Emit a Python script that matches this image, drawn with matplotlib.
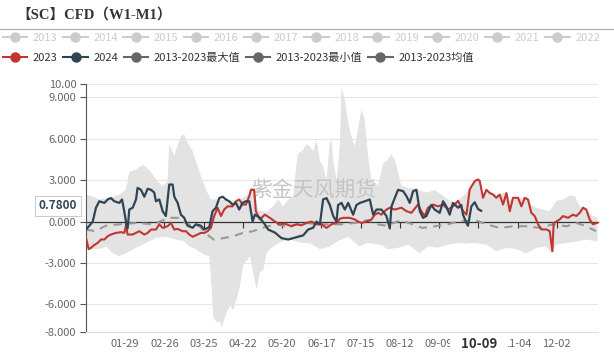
import numpy as np
import pandas as pd
import matplotlib
matplotlib.use("Agg")
import matplotlib.pyplot as plt
from matplotlib.lines import Line2D

plt.rcParams['font.family'] = ['Noto Sans CJK SC', 'DejaVu Sans']

# ---------------------------------------------------------------- data ----
# x = day of year (0 = 01-01)
days_2024 = [0, 2.4, 4.8, 7.1, 9.5, 13.1, 15.5, 17.8, 20.2, 23.8, 25.7, 27.3, 28.5, 29.7,
             30.9, 33.3, 35.7, 36.8, 39.2, 41.6, 44.0, 46.4, 48.7, 49.9, 52.3, 54.7, 57.0,
             59.4, 61.8, 63.0, 65.4, 67.7, 70.1, 72.5, 76.1, 78.4, 82.0, 84.4, 88.0, 90.3,
             92.7, 95.1, 97.5, 99.8, 102.2, 104.6, 107.0, 109.3, 111.7, 114.1, 116.5, 118.9,
             120.5, 124.1, 127.6, 130.0, 134.8, 139.5, 144.3, 147.8, 151.4, 155.0, 158.5,
             162.1, 164.5, 166.9, 169.2, 171.6, 174.0, 176.4, 178.7, 179.9, 182.3, 184.7,
             187.1, 190.6, 193.0, 195.4, 199.0, 202.5, 204.9, 207.3, 210.8, 214.4, 216.8,
             218.0, 220.3, 222.7, 226.3, 228.7, 231.0, 233.4, 235.8, 238.2, 240.5, 242.9,
             246.4, 248.8, 252.4, 254.8, 257.1, 259.5, 261.9, 265.5, 267.8, 269.0, 271.5,
             272.6, 275.0, 277.4, 279.8, 282.0]
cfd_2024 = [-0.58, -0.3, 0, 1.0, 1.47, 1.35, 1.6, 1.7, 1.47, 1.35, 1.6, 0.75, 0, -0.5,
            0.87, 1.0, 1.6, 2.44, 2.3, 1.8, 2.37, 2.3, 2.1, 1.47, 1.6, 0.75, 0.4,
            2.68, 2.68, 1.8, 1.35, 0.5, 0.27, -0.3, -0.45, -0.2, -0.3, -0.58, -0.4, 0.75,
            1.0, 1.7, 1.8, 1.6, 1.47, 1.23, 1.35, 0.87, 1.35, 1.47, 1.47, 0,
            0.5, 0.27, -0.2, -0.58, -0.8, -1.2, -1.3, -1.2, -1.1, -1.0, -0.58,
            -0.45, 0, -0.2, 1.6, 1.7, 1.2, 0.4, 0, 1.2, 1.35, 0.87,
            1.35, 0.5, 1.2, 1.35, 1.47, 1.6, 0.5, 0.87, 0.87, 0.4, -0.5,
            1.1, 1.7, 2.3, 2.2, 1.84, 1.35, 2.2, 2.3, 0.75, 0.27, 0.4,
            1.2, 0.87, 0.63, 1.47, 1.1, 0.5, 1.35, 1.0, 1.2, 0.5, -0.1,
            -0.3, 1.1, 1.4, 0.9, 0.78]

days_2023 = [0, 1.9, 3.6, 5.9, 8.3, 10.7, 13.1, 15.5, 17.8, 21.4, 25.0, 27.3, 28.5, 29.7,
             33.3, 35.7, 38.0, 41.6, 44.0, 46.4, 49.9, 52.3, 54.7, 58.2, 60.6, 63.0, 65.4,
             68.9, 71.3, 73.7, 76.1, 79.6, 82.0, 84.4, 86.8, 89.1, 91.5, 93.9, 96.3, 98.6,
             101.0, 104.6, 107.0, 109.3, 111.7, 114.1, 116.5, 117.7, 120.0, 121.2, 124.1,
             127.6, 131.2, 134.8, 138.3, 141.9, 146.6, 150.2, 153.8, 157.3, 160.9, 164.5,
             168.0, 171.6, 175.2, 178.7, 181.1, 183.5, 188.2, 191.8, 194.2, 196.6, 200.1,
             203.7, 206.1, 208.5, 210.8, 214.4, 216.8, 220.3, 225.1, 228.7, 232.2, 236.9,
             239.3, 241.7, 244.0, 247.6, 251.2, 254.8, 258.3, 261.9, 265.5, 267.8, 269.1,
             271.5, 273.8, 277.4, 279.8, 281.0, 283.3, 285.7, 288.1, 290.5, 292.8, 295.2,
             297.6, 300.0, 302.4, 304.7, 308.3, 310.7, 313.1, 315.4, 317.8, 320.2, 322.6,
             324.9, 328.5, 330.9, 332.8, 333.7, 335.6, 338.0, 340.4, 344.0, 347.5, 349.9,
             352.3, 354.7, 357.0, 359.4, 361.8, 364.2, 365.0]
cfd_2023 = [-1.18, -2.0, -1.9, -1.7, -1.55, -1.3, -1.3, -1.06, -0.94, -0.82, -0.77, -0.82, -0.3, -0.94,
            -0.94, -0.82, -0.7, -0.94, -0.82, -0.58, -0.58, -0.2, -0.46, -0.34, -0.1, -0.58, -0.53,
            -0.7, -0.7, -0.94, -1.1, -0.94, -0.82, -0.82, -0.7, -0.46, 0.4, 1.0, 0.4, 0.87,
            1.1, 1.1, 1.47, 1.6, 1.23, 1.23, 1.84, 2.3, 2.3, 0.75, 0.15,
            0.5, 0.27, 0.0, -0.2, -0.15, -0.34, -0.2, -0.27, -0.1, 0, -0.2,
            -0.2, -0.46, -0.2, -0.1, 0.2, 0.27, 0.27, 0.15, 0, -0.1, 0,
            0.15, 0.5, 0.63, 0.5, 0.87, 1.0, 0.87, 1.0, 0.75, 0.63, 1.23,
            0.75, 0.4, 1.0, 1.23, 1.1, 1.23, 0.87, 1.1, 1.5, 1.0, 0.75,
            0.5, 2.33, 2.93, 3.05, 2.93, 1.72, 2.3, 2.07, 1.95, 1.72, 1.95,
            1.23, 2.07, 0.75, 1.72, 1.72, 1.1, 1.72, 1.6, 0.63, 0.4, -0.2,
            -0.57, -0.57, -0.7, -2.15, -0.1, 0, 0.15, 0.4, 0.27, 0.5, 0.4,
            0.63, 1.0, 0.87, 0.15, -0.2, -0.1, -0.1]

days_max = [0, 4.8, 9.5, 14.3, 19.0, 23.8, 28.5, 30.9, 35.7, 40.4, 42.8, 46.4, 49.9, 54.7,
            58.2, 59.4, 63.0, 67.7, 70.1, 72.5, 76.1, 78.4, 82.0, 85.6, 89.1, 95.6, 103.0,
            109.8, 116.5, 118.1, 120.0, 122.9, 128.8, 133.6, 137.2, 140.7, 144.3, 147.9,
            150.2, 151.4, 155.0, 157.4, 159.7, 162.1, 164.5, 166.9, 169.2, 171.6, 174.0,
            175.2, 176.4, 178.8, 181.1, 182.3, 184.7, 187.1, 189.4, 191.8, 194.1, 196.5,
            198.9, 201.3, 203.6, 208.4, 212.0, 215.5, 217.9, 220.3, 222.7, 225.0, 229.8,
            234.6, 239.3, 244.0, 248.8, 253.6, 258.3, 263.1, 267.8, 271.5, 273.8, 277.4,
            279.8, 281.0, 283.3, 285.7, 288.1, 292.8, 297.6, 300.0, 302.4, 304.7, 310.7,
            315.4, 318.0, 321.4, 326.1, 330.9, 335.6, 340.4, 345.1, 348.7, 352.3, 354.7,
            357.0, 361.8, 365.0]
cfd_max = [1.95, 1.82, 1.6, 1.7, 1.8, 1.95, 2.3, 3.6, 3.77, 4.1, 3.95, 3.6, 3.05, 2.56,
           2.9, 5.6, 4.75, 6.2, 6.3, 5.7, 5.1, 4.4, 3.3, 2.3, 1.6, 1.6, 1.5,
           1.6, 2.0, 2.5, 2.4, 0.8, 0.7, 1.1, 1.6, 1.1, 1.6, 1.84,
           4.2, 4.9, 5.2, 5.6, 5.45, 5.1, 5.9, 4.4, 4.0, 3.0, 5.7,
           5.9, 4.5, 3.0, 5.45, 9.7, 8.84, 7.15, 6.2, 5.45, 6.7, 8.1,
           7.4, 4.7, 3.05, 2.6, 4.2, 4.5, 4.86, 4.5, 3.6, 2.6, 2.4,
           2.4, 2.2, 2.1, 2.3, 1.95, 1.6, 1.35, 1.72, 2.1, 2.4, 2.95,
           3.1, 2.95, 2.0, 2.3, 2.1, 1.95, 2.07, 2.1, 1.5, 1.72, 1.72,
           1.6, 1.2, 1.0, 0.87, 0.75, 1.5, 1.6, 1.9, 1.84, 1.1, 1.0,
           0.9, 0.4, 0.27]

days_min = [0, 1.9, 3.6, 9.5, 14.3, 19.0, 23.8, 28.5, 35.7, 42.8, 49.9, 57.0, 64.2, 70.1,
            73.7, 78.4, 84.0, 88.0, 89.6, 90.8, 93.2, 95.6, 96.8, 98.0, 100.3, 102.7, 105.0,
            107.4, 109.8, 112.2, 117.0, 119.3, 121.7, 124.1, 126.5, 128.8, 132.4, 138.3,
            145.5, 152.0, 160.0, 167.0, 174.0, 180.0, 187.0, 195.0, 201.0, 211.0, 215.0,
            223.0, 230.0, 238.0, 244.0, 251.0, 258.0, 266.0, 271.0, 276.2, 285.7, 292.8,
            300.0, 307.1, 314.2, 321.4, 328.5, 332.0, 335.6, 342.8, 349.9, 357.0, 364.2, 365.0]
cfd_min = [-1.2, -2.1, -2.0, -2.0, -1.8, -2.3, -2.5, -2.3, -1.9, -1.55, -1.2, -1.1, -1.3, -1.43,
           -1.8, -2.0, -2.4, -2.5, -4.7, -6.9, -7.3, -7.2, -7.7, -7.3, -6.6, -6.1, -6.4,
           -5.65, -4.7, -3.2, -2.5, -3.7, -4.9, -3.7, -3.5, -2.3, -1.9, -1.5,
           -1.3, -1.5, -1.6, -2.0, -1.8, -1.4, -1.1, -1.8, -1.55, -1.7, -2.0,
           -1.9, -1.67, -2.3, -1.8, -1.9, -1.67, -1.55, -1.6, -1.55, -1.67, -2.15,
           -1.9, -2.0, -2.3, -1.9, -1.8, -2.3, -1.67, -1.55, -1.45, -1.3, -1.43, -1.43]

days_mean = [0, 7, 14, 24, 36, 48, 59, 67, 72, 81, 85, 91, 98, 105, 112, 119, 126, 135,
             144, 156, 168, 182, 192, 201, 208, 214, 225, 233, 240, 249, 258, 267, 279,
             286, 295, 305, 314, 324, 333, 343, 350, 357, 364]
cfd_mean = [-0.58, -0.7, -0.3, -0.2, -0.1, -0.2, 0.27, 0.27, -0.2, -0.34, -0.82, -1.3, -1.2,
            -1.06, -0.82, -0.7, -0.46, -0.2, -0.34, -0.1, -0.2, -0.2, -0.1, 0.1, -0.2, -0.3,
            0.1, -0.2, -0.46, -0.34, -0.2, 0.05, 0.05, -0.2, -0.46, -0.34, -0.34, -0.46,
            -0.2, -0.34, -0.1, -0.34, -0.7]

hist_years = ['2013', '2014', '2015', '2016', '2017', '2018', '2019', '2020', '2021', '2022']
main_labels = ['2023', '2024', '2013-2023最大值', '2013-2023最小值', '2013-2023均值']

y_ticks = [10, 9, 6, 3, 0, -3, -6, -8]
y_tick_labels = ['10.00', '9.000', '6.000', '3.000', '0.000', '-3.000', '-6.000', '-8.000']
tick_days = [28 * k for k in range(1, 13)]
base_date = pd.Timestamp('2024-01-01')
x_tick_labels = [(base_date + pd.Timedelta(days=d)).strftime('%m-%d') for d in tick_days]

last_day = 282        # 10-09
last_value = '0.7800'

RED = '#c23531'
NAVY = '#2f4554'
STAT = '#666666'
FADED = '#cccccc'

# ---------------------------------------------------------------- figure --
fig = plt.figure(figsize=(6.14, 3.52), dpi=100)
ax = fig.add_axes([86 / 614, 1 - 332 / 352, 511.5 / 614, 248.5 / 352])

# min/max band
band_x = np.concatenate([days_max, days_min[::-1]])
band_y = np.concatenate([cfd_max, cfd_min[::-1]])
ax.fill(band_x, band_y, color='#e3e3e3', lw=0, zorder=1)

ax.plot(days_mean, cfd_mean, color='#999999', lw=1.5, dashes=[4, 3], zorder=2)
ax.plot(days_2023, cfd_2023, color=RED, lw=1.5, zorder=3)
ax.plot(days_2024, cfd_2024, color=NAVY, lw=1.6, zorder=4)

ax.set_xlim(0, 365)
ax.set_ylim(-8, 10)
ax.set_yticks(y_ticks, y_tick_labels)
ax.set_xticks(tick_days, x_tick_labels)
ax.tick_params(axis='y', colors='#555555', labelcolor='#666666', labelsize=8,
               length=4, width=0.8, pad=3)
ax.tick_params(axis='x', length=0, labelcolor='#666666', labelsize=8, pad=5)
ax.grid(axis='y', color='#e6e6e6', lw=0.8, zorder=0)
ax.set_axisbelow(True)
for side in ('top', 'right'):
    ax.spines[side].set_visible(False)
ax.spines['left'].set_color('#555555')
ax.spines['left'].set_linewidth(0.8)
ax.spines['bottom'].set_color('#e0e0e0')

# zero axis line with ticks
zero_ax = ax.secondary_xaxis(0, transform=ax.transData)
zero_ax.set_xticks(tick_days)
zero_ax.tick_params(axis='x', direction='out', length=4, width=0.8, color='#333333',
                    labelbottom=False)
zero_ax.spines['bottom'].set_color('#333333')
zero_ax.spines['bottom'].set_linewidth(0.9)
zero_ax.set_zorder(1.5)

# watermark
ax.text(0.446, 0.572, '紫金天风期货', transform=ax.transAxes, fontsize=15,
        color='#c4c4c4', ha='center', va='center', zorder=1.8)

# current-value pointer on y axis
ax.annotate(last_value, xy=(0, 0.78), xycoords=('axes fraction', 'data'),
            xytext=(-9, 5), textcoords='offset pixels', ha='right', va='center',
            fontsize=8.5, fontweight='bold', color=NAVY, annotation_clip=False,
            bbox=dict(boxstyle='square,pad=0.3', fc='white', ec='#cccccc', lw=0.8))

# current-date label on x axis
ax.annotate('   10-09   ', xy=(last_day, 0), xycoords=('data', 'axes fraction'),
            xytext=(-2, -12), textcoords='offset pixels', ha='center', va='center',
            fontsize=9.5, fontweight='bold', color='#333333', annotation_clip=False,
            bbox=dict(boxstyle='square,pad=0.15', fc='white', ec='none'))

# title
fig.text(16 / 614, 1 - 15 / 352, '【SC】CFD（W1-M1）', fontsize=10.5, fontweight='bold',
         family=['Liberation Serif', 'Noto Sans CJK SC'], color='#333333',
         ha='left', va='center')
fig.add_artist(Line2D([0, 1], [1 - 29 / 352] * 2, transform=fig.transFigure,
                      color='#aaaaaa', lw=0.8))

# legends
h1 = [Line2D([], [], color=FADED, lw=1.5, marker='o', markersize=6.5) for _ in hist_years]
fig.legend(h1, hist_years, loc='center left', bbox_to_anchor=(-0.006, 1 - 38 / 352),
           ncol=len(hist_years), frameon=False, fontsize=8, handlelength=2.2,
           handletextpad=0.5, columnspacing=0.5, borderpad=0.1, labelcolor=FADED)

main_colors = [RED, NAVY, STAT, STAT, STAT]
h2 = [Line2D([], [], color=c, lw=1.5, marker='o', markersize=6.5) for c in main_colors]
fig.legend(h2, main_labels, loc='center left', bbox_to_anchor=(-0.006, 1 - 58 / 352),
           ncol=len(main_labels), frameon=False, fontsize=8, handlelength=2.2,
           handletextpad=0.5, columnspacing=0.5, borderpad=0.1, labelcolor='#333333')

fig.savefig('out.png', dpi=100)
